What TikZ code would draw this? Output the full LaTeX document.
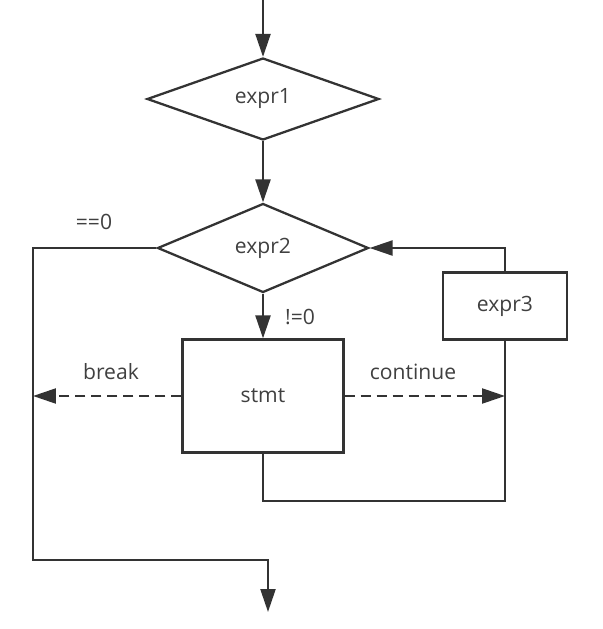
\documentclass[tikz,border=0pt]{standalone}
\usepackage{fontspec}
\setmainfont{Open Sans}
\usepackage{tikz}
\usetikzlibrary{arrows.meta,positioning,calc,shapes.geometric}

\begin{document}
\begin{tikzpicture}[x=0.02cm,y=-0.02cm,
  cond/.style={diamond,draw=black!80,line width=1.3pt,aspect=2.8,inner sep=1pt,
               font=\fontsize{12}{14}\selectfont,text=black!75},
  box/.style={rectangle,draw=black!80,line width=1.3pt,inner sep=2pt,
              font=\fontsize{12}{14}\selectfont,text=black!75},
  lbl/.style={font=\fontsize{12}{14}\selectfont,text=black!75,inner sep=1pt},
  line/.style={draw=black!80,line width=1.3pt},
  arr/.style={line,-{Triangle[length=0.46cm,width=0.3cm]}},
  dasharr/.style={arr,dash pattern=on 0.2cm off 0.12cm}]
\useasboundingbox (0,0) rectangle (602,629);
\node[cond,minimum width=4.64cm,minimum height=1.64cm] (e1) at (263,99) {expr1};
\node[cond,minimum width=4.22cm,minimum height=1.78cm] (e2) at (263,248) {expr2};
\node[box,minimum width=3.22cm,minimum height=2.26cm] (stmt) at (263,396) {stmt};
\node[box,minimum width=2.48cm,minimum height=1.34cm] (e3) at (505,306) {expr3};
\node[lbl] (eq) at (94,222) {==0};
\node[lbl] (ne) at (300,317) {!=0};
\node[lbl] (brk) at (111,372) {break};
\node[lbl] (cont) at (413,372) {continue};
\coordinate (in) at (263,0);
\coordinate (lft) at (33,560);
\coordinate (out) at (268,612);
\coordinate (rgt) at (505,501);
\draw[arr] (in) -- (e1);
\draw[arr] (e1) -- (e2);
\draw[arr] (e2) -- (stmt);
% false branch leaves the loop
\draw[arr] (e2.west) -| (lft) -| (out);
\draw[dasharr] (stmt.west) -- (stmt.west -| lft);
\draw[dasharr] (stmt.east) -- (stmt.east -| rgt);
% back edge through expr3
\draw[line] (stmt.south) |- (rgt) -- (e3.south);
\draw[arr] (e3.north) |- (e2.east);
\end{tikzpicture}
\end{document}
